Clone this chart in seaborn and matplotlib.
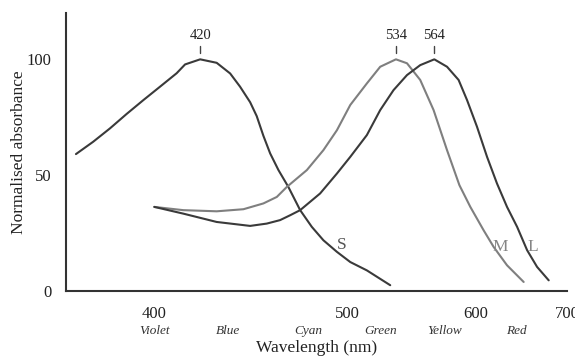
import matplotlib
matplotlib.use("Agg")
import matplotlib.pyplot as plt
import seaborn as sns
import numpy as np
import pandas as pd

sns.set_style("white")
plt.rcParams["font.family"] = ["Liberation Serif", "DejaVu Serif"]

# cone absorbance curves (wavelength nm, normalised %)
s_wl = [369.9, 376.1, 382.4, 388.8, 395.5, 402.4, 409.5, 413.2, 420.0, 427.7,
        434.2, 439.1, 444.2, 447.6, 451.1, 454.7, 459.2, 464.7, 471.4, 478.2,
        485.2, 493.6, 502.2, 513.3, 529.8]
s_val = [59.1, 64.4, 70.2, 76.4, 82.4, 88.2, 94.0, 97.8, 100.0, 98.5,
         93.9, 88.2, 81.5, 75.5, 67.0, 59.4, 52.2, 44.9, 34.9, 27.7,
         21.9, 16.9, 12.5, 8.9, 2.5]

m_wl = [400.0, 412.4, 427.7, 440.8, 451.1, 458.3, 463.8, 475.3, 485.2, 493.6,
        502.2, 513.3, 522.6, 534.0, 542.3, 552.6, 563.4, 574.7, 585.5, 595.4,
        607.9, 617.7, 631.2, 648.9]
m_val = [36.3, 34.9, 34.4, 35.3, 37.8, 40.6, 44.9, 52.2, 60.8, 69.4,
         80.3, 89.6, 96.8, 100.0, 98.3, 91.1, 78.1, 60.8, 45.7, 36.3,
         26.2, 19.0, 11.1, 3.9]

l_wl = [400.0, 412.4, 427.7, 444.2, 452.9, 460.1, 465.7, 471.4, 483.2, 493.6,
        502.2, 513.3, 522.6, 532.2, 542.3, 552.6, 564.0, 574.7, 584.8, 592.4,
        601.6, 611.2, 621.0, 631.2, 641.8, 652.7, 663.9, 677.5]
l_val = [36.3, 33.4, 29.8, 28.1, 29.1, 30.6, 32.7, 34.9, 42.1, 50.7,
         57.9, 67.3, 78.1, 86.7, 93.2, 97.5, 100.0, 96.8, 91.1, 82.4,
         70.9, 57.9, 46.4, 36.3, 27.7, 17.6, 10.4, 4.6]

peaks = [420, 534, 564]

curve_names = ["S", "M", "L"]
label_wl = [497, 624, 659]
label_val = [20, 19, 19]

band_names = ["Violet", "Blue", "Cyan", "Green", "Yellow", "Red"]
band_wl = [400, 433, 476, 523, 573, 641]

df = pd.concat([
    pd.DataFrame({"wl": s_wl, "val": s_val, "cone": "S"}),
    pd.DataFrame({"wl": m_wl, "val": m_val, "cone": "M"}),
    pd.DataFrame({"wl": l_wl, "val": l_val, "cone": "L"}),
])
colors = {"S": "#3a3a3a", "M": "#7f7f7f", "L": "#3a3a3a"}
label_colors = {"S": "#555555", "M": "#858585", "L": "#858585"}

fig = plt.figure(figsize=(5.75, 3.6), dpi=100)
ax = fig.add_axes([66 / 575, 1 - 291 / 360, 501 / 575, 278 / 360])


def fwd(w):
    with np.errstate(divide="ignore"):
        return -1.0 / np.asarray(w, dtype=float)


# wavenumber-like axis: equal steps in 1/wavelength
ax.set_xscale("function", functions=(fwd, fwd))

sns.lineplot(data=df, x="wl", y="val", hue="cone", palette=colors,
             sort=False, estimator=None, linewidth=1.5, legend=False, ax=ax)

ax.set_xlim(366.4, 700)
ax.set_ylim(0, 120)

ax.set_xticks([400, 450, 500, 550, 600, 650, 700])
ax.set_xticklabels(["400", "", "500", "", "600", "", "700"])
ax.set_xticks(np.arange(370, 700, 10), minor=True)
ax.set_yticks([0, 50, 100])
ax.tick_params(axis="both", which="major", direction="out", length=9, width=1.2,
               color="#333333", labelsize=12, pad=1.5)
ax.tick_params(axis="x", which="minor", direction="out", length=5, width=1.0,
               color="#333333")
ax.tick_params(axis="both", labelcolor="#222222")

for side in ["top", "right"]:
    ax.spines[side].set_visible(False)
for side in ["left", "bottom"]:
    ax.spines[side].set_color("#333333")
    ax.spines[side].set_linewidth(1.5)

# peak markers
for p in peaks:
    ax.plot([p, p], [102.6, 105.8], color="#444444", linewidth=1.0)
    ax.text(p, 108.6, str(p), ha="center", va="baseline", fontsize=10.5,
            color="#222222")

for name, w, v in zip(curve_names, label_wl, label_val):
    ax.text(w, v, name, ha="center", va="center", fontsize=12.5,
            color=label_colors[name])

for name, w in zip(band_names, band_wl):
    ax.text(w, -0.145, name, transform=ax.get_xaxis_transform(), ha="center",
            va="center", fontsize=9.5, style="italic", color="#333333")

ax.set_xlabel("Wavelength (nm)", fontsize=12.5, color="#222222")
ax.set_ylabel("Normalised absorbance", fontsize=12.5, color="#222222")
ax.xaxis.set_label_coords(0.5, -0.178)
ax.yaxis.set_label_coords(-0.077, 0.5)

fig.savefig("out.png", dpi=100)
plt.close(fig)
